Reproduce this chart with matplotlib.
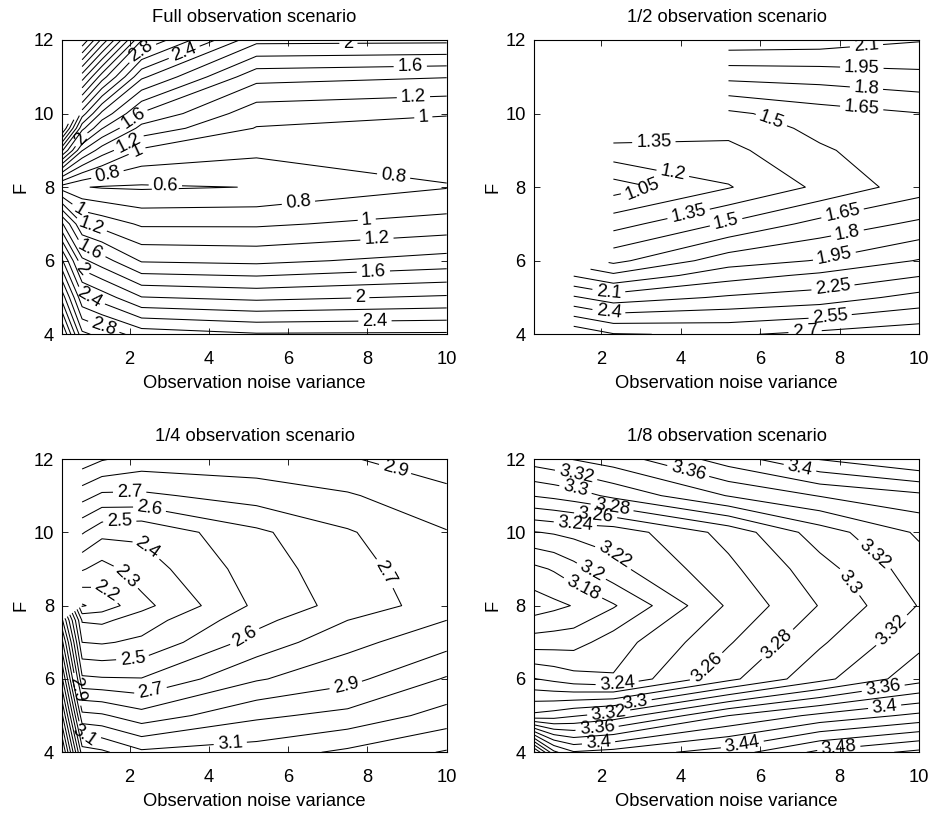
import numpy as np
import matplotlib
matplotlib.use('Agg')
import matplotlib.pyplot as plt

plt.rcParams['font.family'] = ['Liberation Sans', 'DejaVu Sans']
nan = np.nan

# ---------------- data ----------------
titles = ['Full observation scenario', '1/2 observation scenario',
          '1/4 observation scenario', '1/8 observation scenario']

# Panel 1: full observation
p1_x = [0.3, 0.8, 1.3, 2.3, 5.2, 10]
p1_F = [4, 5, 6, 7, 8, 9, 9.6, 10, 11, 12]
p1_Z = [
    [4.02, 3.05, 2.93, 2.71, 2.62, 2.63],
    [3.31, 2.45, 2.31, 2.01, 1.95, 2.03],
    [2.62, 1.85, 1.69, 1.38, 1.35, 1.48],
    [1.82, 1.21, 1.12, 0.97, 0.97, 1.08],
    [0.70, 0.61, 0.585, 0.575, 0.605, 0.79],
    [2.42, 1.61, 1.30, 0.97, 0.85, 0.88],
    [3.42, 2.26, 1.81, 1.33, 0.99, 0.95],
    [nan, 2.70, 2.15, 1.58, 1.08, 1.01],
    [nan, 3.70, 3.10, 2.24, 1.47, 1.41],
    [nan, 4.78, 4.15, 3.01, 2.06, 2.05],
]
p1_levels = np.round(np.arange(0.6, 4.81, 0.2), 2)

# Panel 2: 1/2 observation
p2_x = [0.3, 0.8, 1.3, 2.3, 5.2, 7.5, 10]
p2_F = [4, 5, 5.6, 6, 7, 8, 9, 9.6, 10, 11, 12]
p2_Z = [
    [nan, nan, 2.82, 2.71, 2.68, 2.74, 2.80],
    [nan, nan, 2.27, 2.17, 2.27, 2.32, 2.45],
    [nan, nan, 1.94, 1.83, 2.04, 2.13, 2.24],
    [nan, nan, nan, 1.61, 1.88, 1.96, 2.11],
    [nan, nan, nan, 1.29, 1.52, 1.70, 1.83],
    [nan, nan, nan, 0.98, 1.19, 1.38, 1.58],
    [nan, nan, nan, 1.30, 1.31, 1.48, 1.60],
    [nan, nan, nan, 1.45, 1.40, 1.54, 1.62],
    [nan, nan, nan, nan, 1.47, 1.58, 1.645],
    [nan, nan, nan, nan, 1.84, 1.86, 1.91],
    [nan, nan, nan, nan, 2.20, 2.18, 2.11],
]
p2_levels = np.round(np.arange(1.05, 2.71, 0.15), 2)

# Panel 3: 1/4 observation
p3_x = [0.3, 0.8, 1.3, 2.3, 5.2, 7.5, 10]
p3_F = [4, 5, 6, 7, 7.6, 8, 9, 10, 11, 12]
p3_Z = [
    [4.02, 3.25, 3.22, 3.12, 3.15, 3.22, 3.31],
    [3.71, 2.93, 2.915, 2.84, 2.98, 3.03, 3.14],
    [3.41, 2.62, 2.61, 2.605, 2.79, 2.87, 3.01],
    [3.12, 2.40, 2.39, 2.42, 2.64, 2.77, 2.865],
    [2.91, 2.29, 2.28, 2.35, 2.57, 2.70, 2.80],
    [nan, 2.09, 2.14, 2.27, 2.52, 2.64, 2.75],
    [nan, 2.31, 2.26, 2.35, 2.55, 2.66, 2.77],
    [nan, 2.51, 2.43, 2.42, 2.58, 2.69, 2.795],
    [nan, 2.74, 2.68, 2.68, 2.745, 2.79, 2.866],
    [nan, 2.96, 2.91, 2.86, 2.86, 2.89, 2.97],
]
p3_levels = np.round(np.arange(2.1, 4.01, 0.1), 2)

# Panel 4: 1/8 observation
p4_x = [0.3, 0.8, 1.3, 2.3, 5.2, 7.5, 10]
p4_F = [4, 5, 6, 7, 8, 9, 10, 11, 12]
p4_Z = [
    [3.525, 3.445, 3.422, 3.428, 3.45, 3.485, 3.505],
    [3.305, 3.31, 3.318, 3.329, 3.38, 3.405, 3.425],
    [3.241, 3.235, 3.228, 3.222, 3.275, 3.314, 3.352],
    [3.19, 3.191, 3.192, 3.21, 3.258, 3.297, 3.335],
    [3.149, 3.155, 3.161, 3.178, 3.243, 3.281, 3.321],
    [3.175, 3.182, 3.193, 3.214, 3.255, 3.292, 3.331],
    [3.219, 3.222, 3.226, 3.228, 3.267, 3.31, 3.343],
    [3.281, 3.285, 3.29, 3.305, 3.341, 3.361, 3.375],
    [3.33, 3.335, 3.341, 3.35, 3.39, 3.421, 3.441],
]
p4_levels = np.round(np.arange(3.16, 3.521, 0.02), 2)

# ---------------- label placement (data coords) ----------------
p1_lab = {0.6: [(2.9, 8.03)],
          0.8: [(1.43, 8.38), (8.66, 8.3), (6.26, 7.56)],
          1.0: [(2.18, 9.0), (9.41, 9.9), (7.98, 7.15), (0.71, 7.35)],
          1.2: [(1.93, 9.3), (9.16, 10.45), (8.24, 6.58), (1.0, 6.85)],
          1.6: [(1.97, 10.05), (9.08, 11.32), (8.15, 5.68), (0.97, 6.2)],
          2.0: [(0.65, 9.4), (7.52, 11.88), (7.82, 4.98), (0.67, 5.72)],
          2.4: [(3.4, 11.6), (8.19, 4.35), (0.97, 4.95)],
          2.8: [(2.27, 11.72), (1.34, 4.18)]}
p2_lab = {2.1: [(8.68, 11.8), (2.18, 5.12)],
          1.95: [(8.56, 11.27), (7.89, 6.0)],
          1.8: [(8.68, 10.75), (8.22, 6.62)],
          1.65: [(8.56, 10.2), (8.1, 7.15)],
          1.5: [(6.29, 9.85), (5.16, 6.95)],
          1.35: [(3.32, 9.2), (4.2, 7.25)],
          1.2: [(3.82, 8.5)],
          1.05: [(3.02, 7.97)],
          2.25: [(7.84, 5.21)],
          2.55: [(7.76, 4.5)],
          2.7: [(7.13, 4.07)],
          2.4: [(2.18, 4.57)]}
p3_lab = {2.9: [(8.69, 11.7), (7.46, 5.8), (0.6, 5.7)],
          2.7: [(2.0, 11.12), (8.39, 8.85), (2.55, 5.56)],
          2.6: [(2.51, 10.7), (4.88, 7.2)],
          2.5: [(1.75, 10.3), (2.08, 6.5)],
          2.4: [(2.42, 9.55)],
          2.3: [(1.92, 8.8)],
          2.2: [(1.41, 8.4)],
          3.1: [(4.54, 4.22), (0.86, 4.45)]}
p4_lab = {3.32: [(1.34, 11.47), (8.6, 9.06), (9.3, 7.34), (2.18, 5.11)],
          3.3: [(1.34, 11.15), (8.2, 8.6), (2.86, 5.3)],
          3.28: [(2.27, 10.7), (6.3, 7.1)],
          3.26: [(1.85, 10.43), (4.29, 6.7)],
          3.24: [(1.34, 10.22), (2.39, 5.9)],
          3.22: [(2.18, 9.2)],
          3.2: [(1.76, 8.97)],
          3.18: [(1.51, 8.43)],
          3.36: [(4.12, 11.4), (9.08, 5.88), (1.89, 4.65)],
          3.4: [(6.97, 11.6), (9.12, 5.38), (1.93, 4.2)],
          3.44: [(5.55, 4.2)],
          3.48: [(7.98, 4.1)]}

panels = [
    (p1_x, p1_F, p1_Z, p1_levels, p1_lab),
    (p2_x, p2_F, p2_Z, p2_levels, p2_lab),
    (p3_x, p3_F, p3_Z, p3_levels, p3_lab),
    (p4_x, p4_F, p4_Z, p4_levels, p4_lab),
]

W, H = 930, 813
rects = [
    (62.3, 40.0, 446.7, 334.3),
    (534.0, 40.0, 919.0, 334.3),
    (62.3, 459.0, 446.7, 752.3),
    (534.0, 459.0, 919.0, 752.3),
]

FS = 13.2
LW = 0.75
fig = plt.figure(figsize=(W / 100, H / 100), dpi=100)
fmt = lambda v: '%g' % v

for (x, F, Z, levels, labs), (l, t, r, b), title in zip(panels, rects, titles):
    ax = fig.add_axes([l / W, 1 - b / H, (r - l) / W, (b - t) / H])
    Zm = np.ma.masked_invalid(np.array(Z, dtype=float))
    labelled = [float(k) for k in labs]
    plain = [v for v in levels if min(abs(v - k) for k in labelled) > 1e-6]
    if plain:
        ax.contour(x, F, Zm, levels=plain, colors='k', linewidths=LW)
    for lev, pts in labs.items():
        cs1 = ax.contour(x, F, Zm, levels=[lev], colors='k', linewidths=LW)
        txts = cs1.clabel(manual=pts, inline=True, fmt=fmt,
                          fontsize=FS, inline_spacing=4)
        if abs(lev - 0.6) < 1e-9:
            for tt in txts:
                tt.set_bbox(dict(facecolor='white', edgecolor='none', pad=0.5))
    ax.set_xlim(0.3, 10)
    ax.set_ylim(4, 12)
    ax.set_xticks([2, 4, 6, 8, 10])
    ax.set_yticks([4, 6, 8, 10, 12])
    ax.tick_params(direction='in', top=True, right=True, length=4, width=0.6,
                   labelsize=FS)
    ax.tick_params(axis='x', pad=12)
    ax.tick_params(axis='y', pad=6)
    for s in ax.spines.values():
        s.set_linewidth(0.8)
    ax.set_xlabel('Observation noise variance', fontsize=FS, labelpad=5)
    ax.set_ylabel('F', fontsize=FS, labelpad=3)
    ax.set_title(title, fontsize=FS, pad=13)

fig.savefig('out.png', dpi=100)
